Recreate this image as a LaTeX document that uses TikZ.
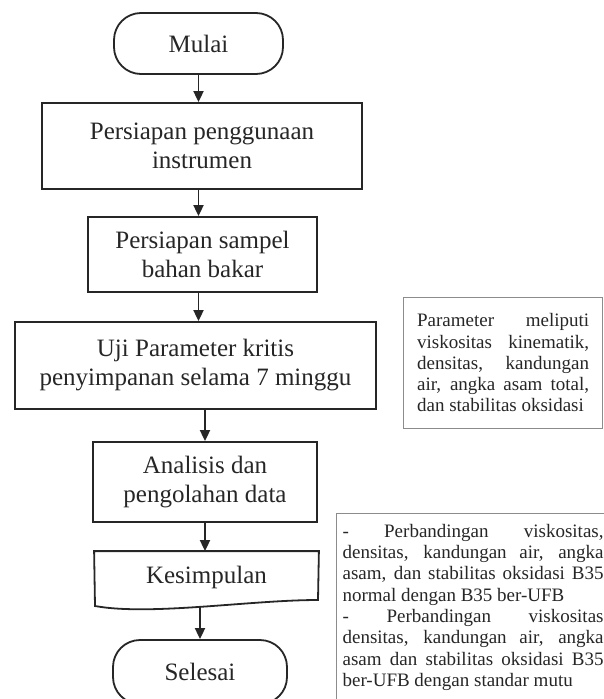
\documentclass[tikz,border=0pt]{standalone}
\usepackage{fontspec}
\setmainfont{Liberation Serif}
\usetikzlibrary{arrows.meta}

% justified note text, no hyphenation
\newcommand{\notepar}[2]{\parbox{#1}{\hyphenpenalty=10000\relax\exhyphenpenalty=10000\relax #2}}

\tikzset{
  process/.style={draw=black!85, line width=1.8pt, text=black!85, align=center,
    inner sep=0pt, font=\fontsize{25}{29}\selectfont},
  terminal/.style={process, rounded corners=27pt},
  notebox/.style={draw=black!45, line width=1.2pt, text=black!85, anchor=north west,
    font=\fontsize{19}{21.3}\selectfont},
  flow/.style={line width=1.8pt, draw=black!85, -{Triangle[width=10pt,length=11pt]}},
}

\begin{document}
\begin{tikzpicture}[x=1pt,y=-1pt]
				\useasboundingbox (0,0) rectangle (603,699);

				% main flow
				\node[terminal, minimum width=169pt, minimum height=61pt] (mulai) at (198.5,43.5) {Mulai};
				\node[process, minimum width=320pt, minimum height=86pt] (persiapan) at (202,146) {Persiapan penggunaan\\instrumen};
				\node[process, minimum width=229pt, minimum height=75pt] (sampel) at (202.5,254.5) {Persiapan sampel\\bahan bakar};
				\node[process, minimum width=361pt, minimum height=87pt] (uji) at (195.5,365.5) {Uji Parameter kritis\\penyimpanan selama 7 minggu};
				\node[process, minimum width=224pt, minimum height=80pt] (analisis) at (205,482) {Analisis dan\\pengolahan data};
				\node[process, draw=none, minimum width=223pt, minimum height=51pt] (kesimpulan) at (206.5,577.5) {Kesimpulan};
				\node[terminal, minimum width=174pt, minimum height=64pt] (selesai) at (200,672) {Selesai};

				% document shape
				\coordinate (kesleft) at (95,606);
				\coordinate (kesout) at (200,607);
				\draw[draw=black!85, line width=1.8pt] (kesleft) -- (kesimpulan.north west) -- (kesimpulan.north east)
					-- (318,600) .. controls (250,600) and (150,616) .. (kesleft) -- cycle;

				% notes
				\node[notebox, inner xsep=13.5pt, inner ysep=16pt] (parameter) at (403,297)
					{\notepar{172pt}{Parameter meliputi\linebreak viskositas kinematik,\linebreak densitas, kandungan\linebreak air, angka asam total,\linebreak dan stabilitas oksidasi}};
				\node[notebox, inner xsep=6pt, inner ysep=10.5pt] (perbandingan) at (336,513)
					{\notepar{261pt}{- Perbandingan viskositas,\linebreak densitas, kandungan air, angka\linebreak asam, dan stabilitas oksidasi B35\linebreak normal dengan B35 ber-UFB\par
					- Perbandingan viskositas\linebreak densitas, kandungan air, angka\linebreak asam dan stabilitas oksidasi B35\linebreak ber-UFB dengan standar mutu}};

				% arrows
				\draw[flow] (mulai.south) -- (mulai.south |- persiapan.north);
				\draw[flow] (persiapan.south -| mulai.south) -- (sampel.north -| mulai.south);
				\draw[flow] (sampel.south -| mulai.south) -- (uji.north -| mulai.south);
				\draw[flow] (uji.south -| analisis.north) -- (analisis.north);
				\draw[flow] (analisis.south) -- (analisis.south |- kesimpulan.north);
				\draw[flow] (kesout) -- (selesai.north);

			\end{tikzpicture}
\end{document}
